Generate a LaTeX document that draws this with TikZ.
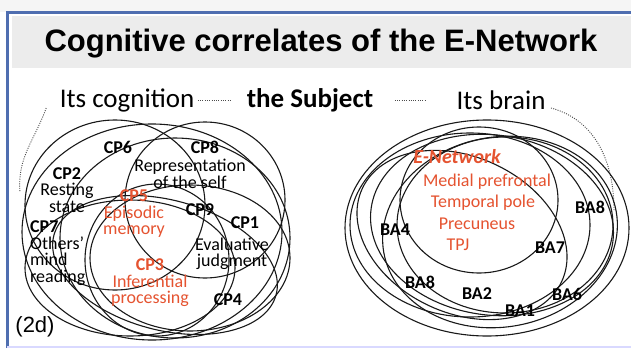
\documentclass[tikz,border=0pt]{standalone}
\usepackage{fontspec}
\setmainfont{Carlito}
\newfontfamily\titlefont{Liberation Sans}
\usetikzlibrary{positioning}
\definecolor{framebl}{RGB}{79,110,176}
\definecolor{bandgray}{RGB}{236,236,236}
\definecolor{cpred}{RGB}{229,83,48}
\tikzset{
    venn/.style={draw=black!90, line width=1.1pt},
    dotline/.style={black!70, line width=0.9pt, dash pattern=on 1pt off 1.3pt},
    lbl/.style={font=\fontsize{18}{16.5}\selectfont, inner sep=0pt, align=center},
    cplbl/.style={lbl, font=\fontsize{18}{16.5}\selectfont\bfseries},
    redlbl/.style={lbl, text=cpred},
    sublbl/.style={font=\fontsize{27}{27}\selectfont}
}

\begin{document}
\begin{tikzpicture}[x=1pt, y=-1pt]
    \useasboundingbox (0,0) rectangle (631,348);
    \fill[gray!8] (0,0) rectangle (631,12);
    \fill[white] (7,12) rectangle (631,348);
    \fill[bandgray] (12,16) rectangle (631,68);
    \draw[framebl, line width=2.5pt] (7.5,348) -- (7.5,12.5) -- (631,12.5);
    \draw[blue!15, line width=1.5pt] (7,347) -- (631,347);
    \node (title) at (321,44) {\titlefont\bfseries\fontsize{31}{31}\selectfont Cognitive correlates of the E-Network};

    % subject line
    \node[sublbl] (cog) at (127,100) {Its cognition};
    \node[sublbl, font=\fontsize{27}{27}\selectfont\bfseries] (subj) at (310,100) {the Subject};
    \node[sublbl] (brain) at (501,100) {Its brain};
    \draw[dotline, shorten >=12pt] (cog.east) -- (subj.west);
    \draw[dotline, shorten <=18pt, shorten >=28pt] (subj.east) -- (brain.west);
    \coordinate (lend) at (20,192);
    \coordinate (rend) at (614,210);
    \draw[dotline] ([xshift=-10pt, yshift=-8pt]cog.west) to[out=-110, in=95] (lend);
    \draw[dotline] ([xshift=2pt, yshift=-8pt]brain.east) to[out=-15, in=90] (rend);

    % cognition
    \begin{scope}[shift={(0, 0)}]
        \draw[venn] (152,232) ellipse (130 and 108);
        \draw[venn] (175,238) ellipse (115 and 100);
        \draw[venn] (205,200) ellipse (80 and 78);
        \draw[venn] (190,258) ellipse (100 and 73);
        \draw[venn] (157,260) ellipse (72 and 76);
        \draw[venn] (130,268) ellipse (105 and 68);
        \draw[venn] (115,205) ellipse (90 and 85);
        \draw[venn, rotate around={-15:(165,265)}] (165,265) ellipse (115 and 65);

        \node[cplbl] (cp6) at (118,147) {CP6};
        \node[cplbl] (cp8) at (205,147) {CP8};
        \node[lbl] (self) at (190,174) {Representation\\of the self};
        \node[lbl] (cp2) at (67,190) {\textbf{CP2}\\Resting\\state};
        \node[redlbl] (cp5) at (134,214) {\textbf{CP5}\\Episodic\\memory};
        \node[cplbl] (cp9) at (200,210) {CP9};
        \node[cplbl] (cp1) at (245,223) {CP1};
        \node[lbl, align=left, anchor=west] (cp7) at (30,253) {\textbf{CP7}\\Others'\\mind\\reading};
        \node[lbl] (eval) at (232,254) {Evaluative\\judgment};
        \node[redlbl] (cp3) at (150,283) {\textbf{CP3}\\Inferential\\processing};
        \node[cplbl] (cp4) at (228,300) {CP4};
    \end{scope}

    % brain
    \begin{scope}[shift={(0, 0)}]
        \draw[venn] (487,228) ellipse (142 and 108);
        \draw[venn] (479,200) ellipse (79 and 73);
        \draw[venn] (470,225) ellipse (120 and 92);
        \draw[venn, rotate around={-8:(492,225)}] (492,225) ellipse (122 and 90);
        \draw[venn, rotate around={10:(500,232)}] (500,232) ellipse (118 and 95);
        \draw[venn, rotate around={-25:(462,235)}] (462,235) ellipse (110 and 78);
        \draw[venn] (505,225) ellipse (108 and 88);

        \node[lbl, text=cpred, font=\fontsize{20}{20}\selectfont\bfseries\itshape] (enet) at (457,157) {E-Network};
        \node[redlbl] (mpf) at (487,182) {Medial prefrontal};
        \node[redlbl] (tpole) at (483,203) {Temporal pole};
        \node[redlbl] (prec) at (477,224) {Precuneus};
        \node[redlbl] (tpj) at (458,245) {TPJ};
        \node[cplbl] (ba8a) at (590,207) {BA8};
        \node[cplbl] (ba4) at (395,230) {BA4};
        \node[cplbl] (ba7) at (550,248) {BA7};
        \node[cplbl] (ba8b) at (420,282) {BA8};
        \node[cplbl] (ba2) at (477,294) {BA2};
        \node[cplbl] (ba6) at (567,294) {BA6};
        \node[cplbl] (ba1) at (520,311) {BA1};
    \end{scope}

    \node[font=\titlefont\fontsize{22}{22}\selectfont] (tag) at (35,327) {(2d)};
\end{tikzpicture}
\end{document}
